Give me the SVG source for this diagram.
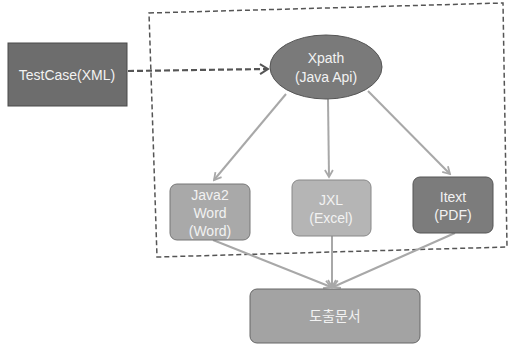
<svg xmlns="http://www.w3.org/2000/svg" width="508" height="347" viewBox="0 0 508 347">
<defs>
<style>
.lbl{font-family:"Liberation Sans","Noto Sans CJK KR",sans-serif;font-size:14px;fill:#f2f2f2;text-anchor:middle}
.conn{stroke:#a8a8a8;stroke-width:2;fill:none}
.dash{stroke:#555;stroke-width:1.5;fill:none;stroke-dasharray:5,3}
</style>
<marker id="ah" markerWidth="10" markerHeight="10" refX="8" refY="5" orient="auto" markerUnits="userSpaceOnUse">
<path d="M1,1 L8,5 L1,9" fill="none" stroke="#a8a8a8" stroke-width="1.8"/>
</marker>
<marker id="ahd" markerWidth="12" markerHeight="12" refX="9" refY="6" orient="auto" markerUnits="userSpaceOnUse">
<path d="M1,1 L9,6 L1,11" fill="none" stroke="#555" stroke-width="2"/>
</marker>
</defs>
<rect width="508" height="347" fill="#ffffff"/>
<g id="container">
<polygon points="149,13 503,3 507,247 157,257" class="dash"/>
</g>
<g id="connectors">
<line x1="128" y1="71" x2="268" y2="69" stroke="#555" stroke-width="2.2" stroke-dasharray="6,3" marker-end="url(#ahd)"/>
<line x1="286" y1="94" x2="214" y2="180" class="conn" marker-end="url(#ah)"/>
<line x1="328" y1="99" x2="329" y2="177" class="conn" marker-end="url(#ah)"/>
<line x1="368" y1="91" x2="450" y2="174" class="conn" marker-end="url(#ah)"/>
<line x1="213" y1="240" x2="331" y2="287" class="conn" marker-end="url(#ah)"/>
<line x1="332" y1="236" x2="332" y2="287" class="conn" marker-end="url(#ah)"/>
<line x1="455" y1="233" x2="333" y2="287" class="conn" marker-end="url(#ah)"/>
</g>
<g id="testcase">
<rect x="8" y="43" width="119" height="63" fill="#6d6d6d" stroke="#4a4a4a" stroke-width="1"/>
<text class="lbl" x="67" y="80">TestCase(XML)</text>
</g>
<g id="xpath">
<ellipse cx="326" cy="67" rx="56" ry="32" fill="#7a7a7a" stroke="#555" stroke-width="1"/>
<text class="lbl" x="326" y="63">Xpath</text>
<text class="lbl" x="326" y="82">(Java Api)</text>
</g>
<g id="java2word">
<rect x="170" y="184" width="80" height="56" rx="7" fill="#a9a9a9" stroke="#777" stroke-width="1"/>
<text class="lbl" x="210" y="200">Java2</text>
<text class="lbl" x="210" y="218">Word</text>
<text class="lbl" x="210" y="236">(Word)</text>
</g>
<g id="jxl">
<rect x="292" y="180" width="79" height="56" rx="7" fill="#b5b5b5" stroke="#888" stroke-width="1"/>
<text class="lbl" x="331" y="205">JXL</text>
<text class="lbl" x="331" y="223">(Excel)</text>
</g>
<g id="itext">
<rect x="413" y="177" width="80" height="56" rx="7" fill="#7c7c7c" stroke="#555" stroke-width="1"/>
<text class="lbl" x="453" y="202">Itext</text>
<text class="lbl" x="453" y="220">(PDF)</text>
</g>
<g id="result">
<rect x="250" y="289" width="170" height="54" rx="7" fill="#a3a3a3" stroke="#666" stroke-width="1"/>
<text class="lbl" x="335" y="321">도출문서</text>
</g>
</svg>
